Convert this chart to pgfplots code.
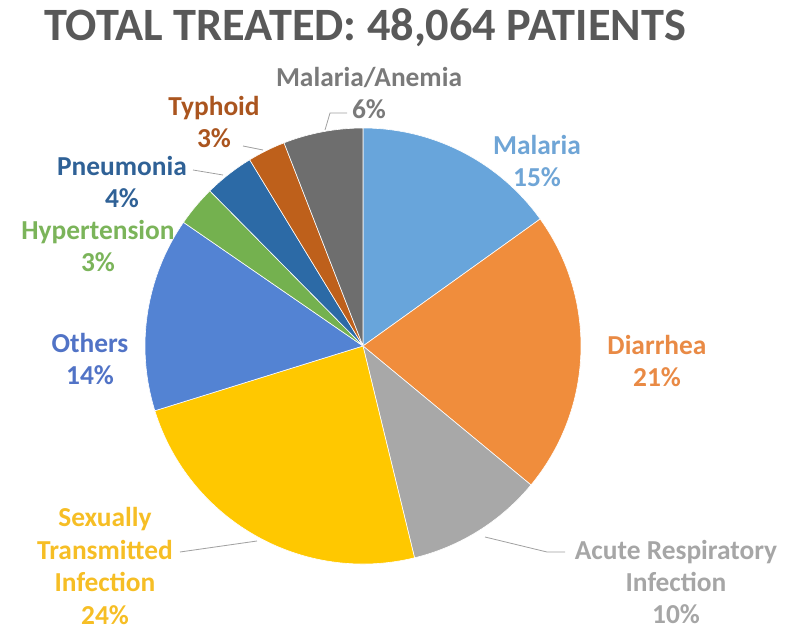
\documentclass[border=0pt]{standalone}
\usepackage{pgfplots}
\pgfplotsset{compat=1.18}
\usepackage{fontspec}
\setmainfont{Carlito}
\definecolor{cMal}{HTML}{68A5DB}
\definecolor{cDia}{HTML}{F08D3C}
\definecolor{cARI}{HTML}{A8A8A8}
\definecolor{cSTI}{HTML}{FFC800}
\definecolor{cOth}{HTML}{5383D3}
\definecolor{cHyp}{HTML}{74B14F}
\definecolor{cPne}{HTML}{2C6AA6}
\definecolor{cTyp}{HTML}{BE601B}
\definecolor{cMA}{HTML}{6E6E6E}
\definecolor{lMal}{HTML}{6FA5D6}
\definecolor{lDia}{HTML}{E98A45}
\definecolor{lARI}{HTML}{A6A6A6}
\definecolor{lSTI}{HTML}{F6BE25}
\definecolor{lOth}{HTML}{5173C6}
\definecolor{lHyp}{HTML}{7BB45A}
\definecolor{lPne}{HTML}{2F6196}
\definecolor{lTyp}{HTML}{AA551F}
\definecolor{lMA}{HTML}{7A7A7A}
\definecolor{cTitle}{HTML}{595959}
\definecolor{cLead}{HTML}{A0A0A0}
\tikzset{lab/.style={font=\fontsize{27.5}{32.5}\selectfont\bfseries, align=center, inner sep=0pt}}
% slice: start %, end % (cumulative, clockwise from top), colour
\newcommand{\pieslice}[3]{%
  \fill[#3, draw=white, line width=0.6pt, line join=round]
    (axis cs:363,346) --
    (axis cs:{363+218*cos(90-3.6*#1)},{346-218*sin(90-3.6*#1)})
    arc[start angle={90-3.6*#1}, end angle={90-3.6*#2}, radius=218bp] -- cycle;}
\begin{document}
\begin{tikzpicture}
\begin{axis}[
  x=1bp, y=1bp, y dir=reverse,
  xmin=0, xmax=797, ymin=0, ymax=630,
  hide axis, clip=false,
]
% Malaria 15.1, Diarrhea 20.9, ARI 10.2, STI 24.0, Others 14.4,
% Hypertension 3.0, Pneumonia 3.7, Typhoid 2.8, Malaria/Anemia 5.9
\pieslice{0}{15.1}{cMal}
\pieslice{15.1}{36.0}{cDia}
\pieslice{36.0}{46.2}{cARI}
\pieslice{46.2}{70.2}{cSTI}
\pieslice{70.2}{84.6}{cOth}
\pieslice{84.6}{87.6}{cHyp}
\pieslice{87.6}{91.3}{cPne}
\pieslice{91.3}{94.1}{cTyp}
\pieslice{94.1}{100}{cMA}
% leader lines
\draw[cLead, line width=0.8pt] (axis cs:325,130) -- (axis cs:330,113) -- (axis cs:347,113);
\draw[cLead, line width=0.8pt] (axis cs:243,146) -- (axis cs:263,150);
\draw[cLead, line width=0.8pt] (axis cs:193,170) -- (axis cs:223,175);
\draw[cLead, line width=0.8pt] (axis cs:180,552) -- (axis cs:257,541);
\draw[cLead, line width=0.8pt] (axis cs:485,537) -- (axis cs:547,552) -- (axis cs:565,552);
% title
\node[font=\fontsize{46.5}{50}\selectfont\bfseries, text=cTitle, inner sep=0pt] at (axis cs:365,28) {TOTAL TREATED: 48,064 PATIENTS};
% labels
\node[lab, text=lMal] at (axis cs:537,161) {Malaria\\15\%};
\node[lab, text=lDia] at (axis cs:657,361) {Diarrhea\\21\%};
\node[lab, text=lARI] at (axis cs:676,582) {Acute Respiratory\\Infection\\10\%};
\node[lab, text=lSTI] at (axis cs:105,566) {Sexually\\Transmitted\\Infection\\24\%};
\node[lab, text=lOth] at (axis cs:90,359) {Others\\14\%};
\node[lab, text=lHyp] at (axis cs:98,246) {Hypertension\\3\%};
\node[lab, text=lPne] at (axis cs:122,182) {Pneumonia\\4\%};
\node[lab, text=lTyp] at (axis cs:214,122) {Typhoid\\3\%};
\node[lab, text=lMA] at (axis cs:369,93) {Malaria/Anemia\\6\%};
\end{axis}
\pgfresetboundingbox
\useasboundingbox (current axis.south west) rectangle (current axis.north east);
\end{tikzpicture}
\end{document}
